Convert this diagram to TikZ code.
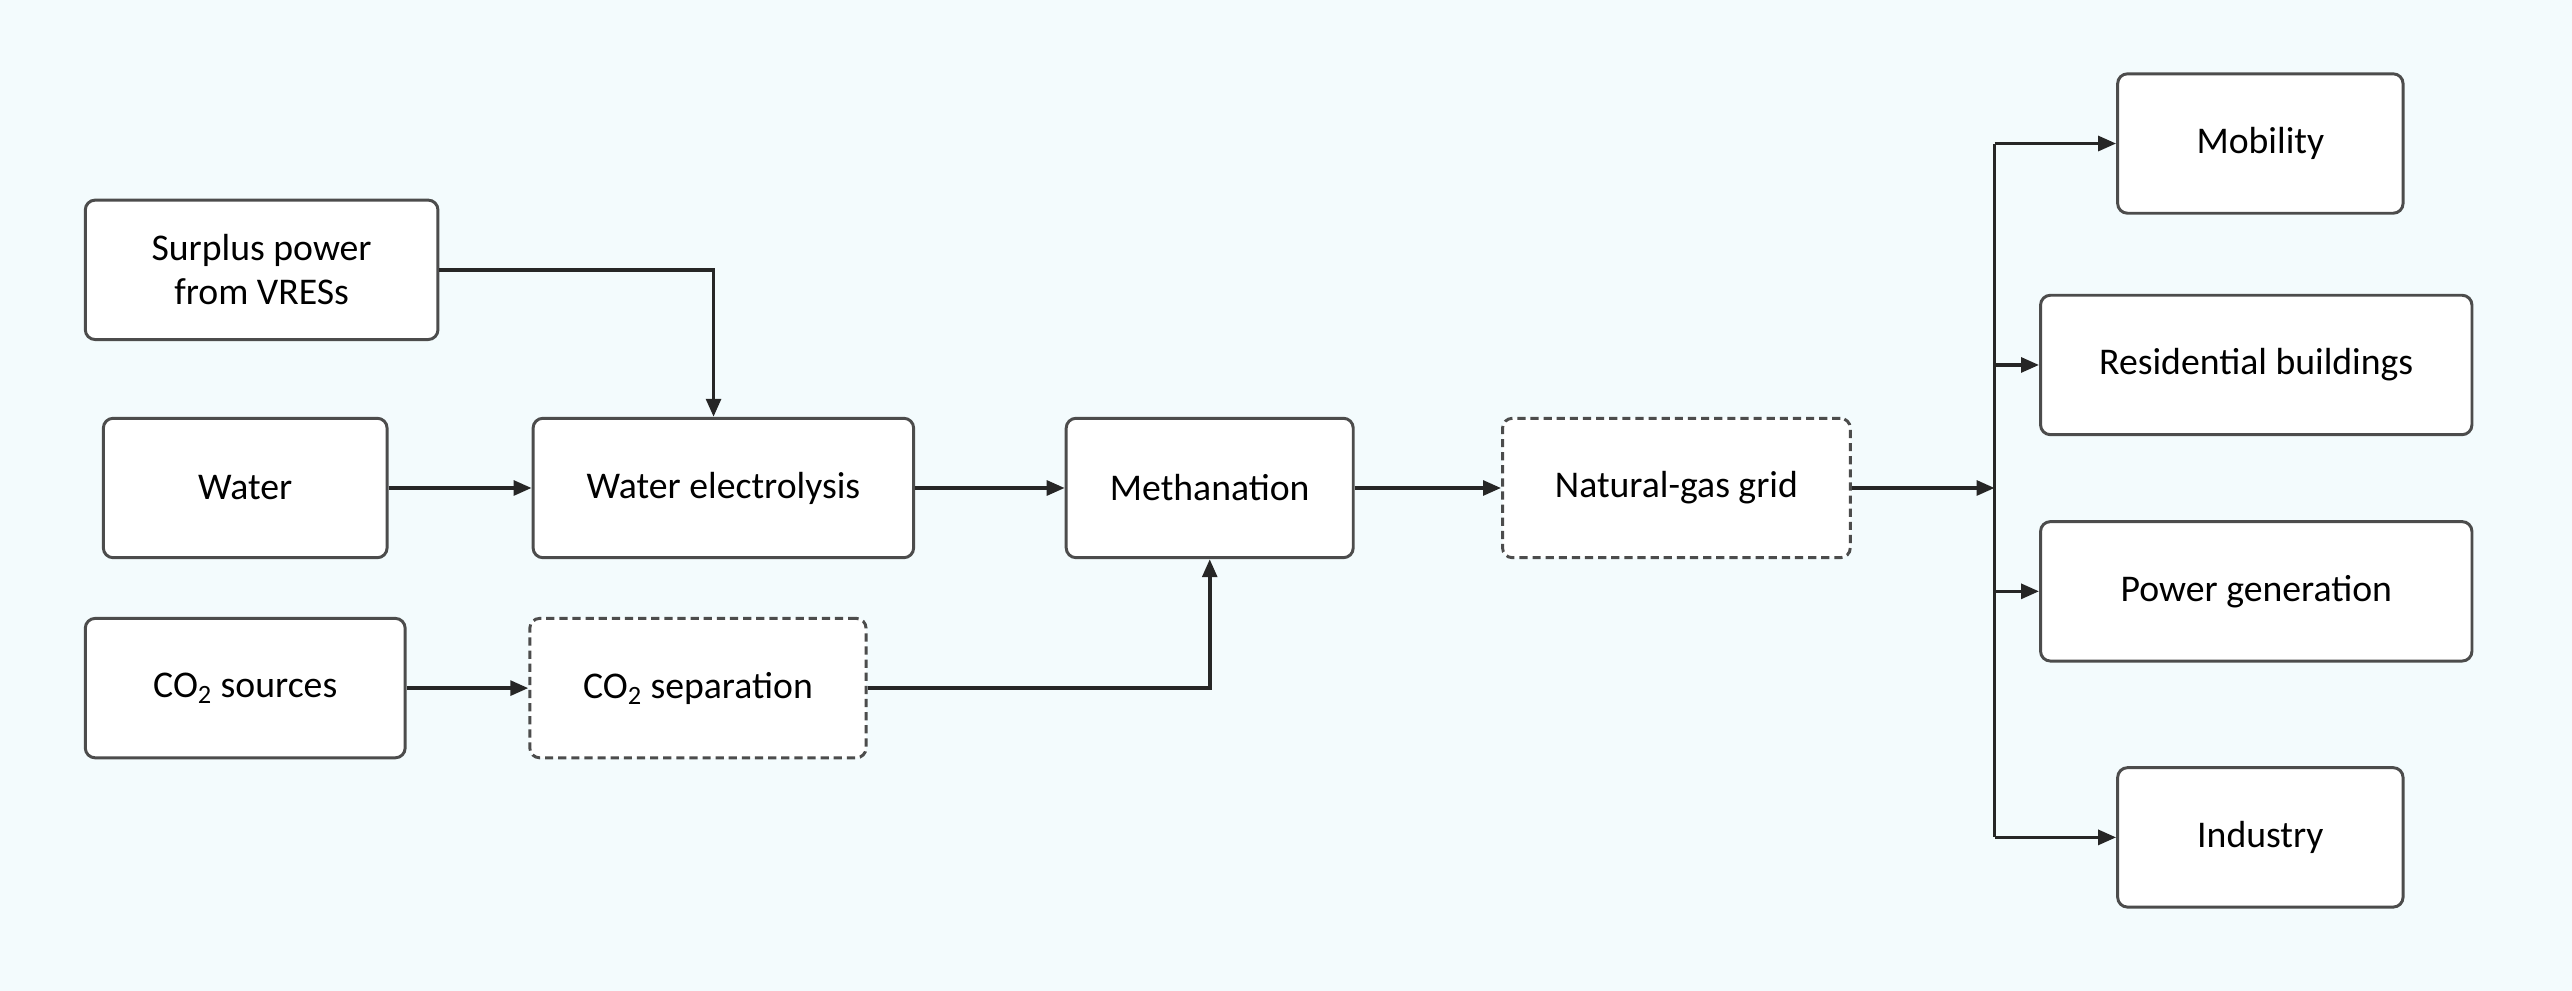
\documentclass[tikz,border=0pt]{standalone}
\usepackage{fontspec}
\setmainfont{Carlito}
\usetikzlibrary{arrows.meta}
\definecolor{bg}{HTML}{F3FBFD}
\begin{document}
\begin{tikzpicture}[x=1pt,y=-1pt,
  box/.style={draw=black!70,line width=1.8pt,rounded corners=6pt,fill=white,inner sep=0pt,align=center,font=\fontsize{23}{27}\selectfont},
  dbox/.style={box,dashed,dash pattern=on 5pt off 3pt},
  arr/.style={-{Triangle[length=11pt,width=9pt]},line width=2.2pt,black!85}]
\fill[bg] (0,0) rectangle (1568,604);
\useasboundingbox (0,0) rectangle (1568,604);
\node[box,minimum width=215,minimum height=85] (sp) at (159.5,164.5) {Surplus power\\from VRESs};
\node[box,minimum width=173,minimum height=85] (wa) at (149.5,297.5) {Water};
\node[box,minimum width=232,minimum height=85] (we) at (441,297.5) {Water electrolysis};
\node[box,minimum width=175,minimum height=85] (me) at (737.5,297.5) {Methanation};
\node[dbox,minimum width=212,minimum height=85] (ng) at (1022,297.5) {Natural-gas grid};
\node[box,minimum width=195,minimum height=85] (cs) at (149.5,419.5) {CO\textsubscript{2} sources};
\node[dbox,minimum width=205,minimum height=85] (cp) at (425.5,419.5) {CO\textsubscript{2} separation};
\node[box,minimum width=174,minimum height=85] (mo) at (1378,87.5) {Mobility};
\node[box,minimum width=263,minimum height=85] (rb) at (1375.5,222.5) {Residential buildings};
\node[box,minimum width=263,minimum height=85] (pg) at (1375.5,360.5) {Power generation};
\node[box,minimum width=174,minimum height=85] (in) at (1378,510.5) {Industry};
\coordinate (bt) at (1216,87.5);
\coordinate (bb) at (1216,510.5);
\coordinate (bm) at (1216,297.5);
\draw[arr] (sp.east) -| (we.north -| 435,0);
\draw[arr] (wa) -- (we);
\draw[arr] (we) -- (me);
\draw[arr] (me) -- (ng);
\draw[arr] (cs) -- (cp);
\draw[arr] (cp.east) -| (me.south);
\draw[arr] (ng) -- (bm);
\draw[line width=2.2pt,black!85] (bt) -- (bb);
\draw[arr] (bt) -- (mo);
\draw[arr] (bm |- rb) -- (rb);
\draw[arr] (bm |- pg) -- (pg);
\draw[arr] (bb) -- (in);
\end{tikzpicture}
\end{document}
